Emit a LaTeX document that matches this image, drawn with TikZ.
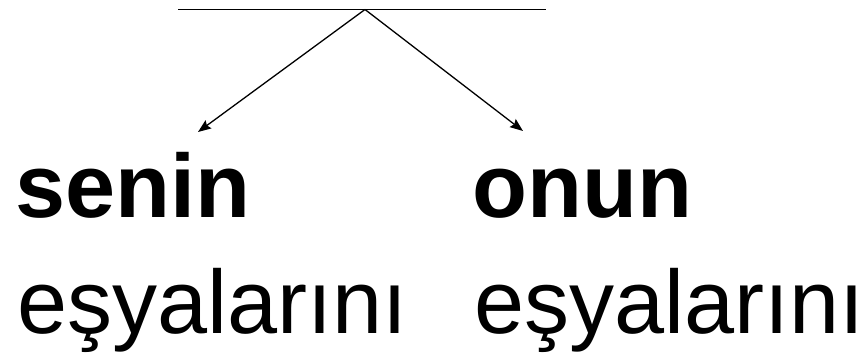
\documentclass[tikz,border=0pt]{standalone}
\usepackage{fontspec}
\setmainfont{Liberation Sans}
\usepackage{tikz}
\usetikzlibrary{arrows.meta}
\usetikzlibrary{positioning}

\begin{document}
\begin{tikzpicture}
	[x=1pt,y=1pt,
	 every node/.style={inner sep=0pt,anchor=base west,font=\fontsize{90}{100}\selectfont},
	 pfeil/.style={line width=1.3pt,-{Stealth[length=13pt,width=10pt,inset=2pt]}}]
	\useasboundingbox (0,0) rectangle (864,356);
	% oberer Strich
	\coordinate (links) at (178,346.5);
	\coordinate (rechts) at (546,346.5);
	\coordinate (spitze) at (365,346.5);
	\draw[line width=1.3pt] (links) -- (rechts);
	\coordinate (zielA) at (198,224);
	\coordinate (zielB) at (523,225);
	\draw[pfeil] (spitze) -- (zielA);
	\draw[pfeil] (spitze) -- (zielB);
	% Woerter
	\node (senin) at (15,138) {\bfseries senin};
	\node (onun) at (472,138) {\bfseries onun};
	\node (esyaA) at (17,23) {eşyalarını};
	\node (esyaB) at (474,23) {eşyalarını};
\end{tikzpicture}
\end{document}
